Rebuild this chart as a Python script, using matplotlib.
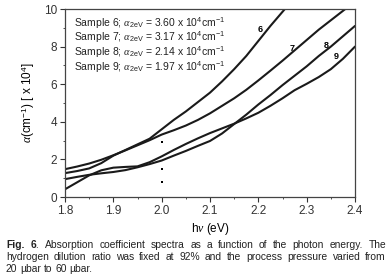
import matplotlib
matplotlib.use('Agg')
import matplotlib.pyplot as plt
from matplotlib.ticker import MultipleLocator

plt.rcParams['font.family'] = ['Liberation Sans', 'DejaVu Sans']
plt.rcParams['mathtext.fontset'] = 'custom'
plt.rcParams['mathtext.rm'] = 'Liberation Sans'
plt.rcParams['mathtext.it'] = 'Liberation Serif:italic'
plt.rcParams['mathtext.bf'] = 'Liberation Sans:bold'

# absorption coefficient [x 1e4 cm^-1] vs photon energy [eV]
hv_6 = [1.8, 1.825, 1.85, 1.875, 1.9, 1.925, 1.95, 1.975, 2.0, 2.025, 2.05, 2.075,
        2.1, 2.125, 2.15, 2.175, 2.2, 2.225, 2.25, 2.26]
alpha_6 = [1.27, 1.38, 1.52, 1.8, 2.2, 2.5, 2.8, 3.1, 3.6, 4.1, 4.55, 5.05,
           5.55, 6.15, 6.8, 7.5, 8.3, 9.1, 9.85, 10.15]

hv_7 = [1.8, 1.825, 1.85, 1.875, 1.9, 1.925, 1.95, 1.975, 2.0, 2.025, 2.05, 2.075,
        2.1, 2.125, 2.15, 2.175, 2.2, 2.225, 2.25, 2.275, 2.3, 2.325, 2.35, 2.375, 2.385]
alpha_7 = [1.48, 1.62, 1.78, 1.98, 2.22, 2.48, 2.75, 3.02, 3.32, 3.55, 3.8, 4.1,
           4.45, 4.85, 5.25, 5.7, 6.2, 6.72, 7.25, 7.8, 8.35, 8.9, 9.4, 9.9, 10.1]

hv_8 = [1.8, 1.825, 1.85, 1.875, 1.9, 1.925, 1.95, 1.975, 2.0, 2.025, 2.05, 2.075,
        2.1, 2.125, 2.15, 2.175, 2.2, 2.225, 2.25, 2.275, 2.3, 2.325, 2.35, 2.375, 2.4]
alpha_8 = [0.95, 1.07, 1.18, 1.26, 1.33, 1.43, 1.58, 1.75, 1.94, 2.2, 2.45, 2.72,
           2.98, 3.38, 3.88, 4.38, 4.92, 5.42, 5.95, 6.45, 6.95, 7.5, 8.0, 8.55, 9.1]

hv_9 = [1.8, 1.825, 1.85, 1.875, 1.9, 1.925, 1.95, 1.975, 2.0, 2.025, 2.05, 2.075,
        2.1, 2.125, 2.15, 2.175, 2.2, 2.225, 2.25, 2.275, 2.3, 2.325, 2.35, 2.375, 2.4]
alpha_9 = [0.41, 0.78, 1.15, 1.42, 1.56, 1.6, 1.63, 1.85, 2.16, 2.5, 2.82, 3.12,
           3.4, 3.65, 3.9, 4.18, 4.48, 4.85, 5.25, 5.68, 6.02, 6.38, 6.8, 7.35, 8.0]

samples = ['6', '7', '8', '9']
alpha_2ev = ['3.60', '3.17', '2.14', '1.97']
label_pos = [(2.203, 8.9), (2.269, 7.9), (2.34, 8.07), (2.362, 7.47)]

dot_x = [2.0, 2.0, 2.0]
dot_y = [2.9, 1.48, 0.79]

caption = [
    [('Fig.', 'bold'), ('$\\mathbf{6}$.', 'normal'), 'Absorption', 'coefficient',
     'spectra', 'as', 'a', 'function', 'of', 'the', 'photon', 'energy.', 'The'],
    ['hydrogen', 'dilution', 'ratio', 'was', 'fixed', 'at', '92%', 'and', 'the',
     'process', 'pressure', 'varied', 'from'],
    ['20', '\u00b5bar', 'to', '60', '\u00b5bar.'],
]

W, H = 390, 279
fig = plt.figure(figsize=(W / 100, H / 100), dpi=100)
ax = fig.add_axes([65 / W, 1 - 197 / H, 290 / W, 188 / H])

for hv, a in [(hv_6, alpha_6), (hv_7, alpha_7), (hv_8, alpha_8), (hv_9, alpha_9)]:
    ax.plot(hv, a, color='#1a1a1a', linewidth=1.5, solid_capstyle='round')
ax.plot(dot_x, dot_y, 's', color='black', markersize=1.6, markeredgewidth=0)

for s, (x, y) in zip(samples, label_pos):
    ax.text(x, y, s, fontsize=6.5, fontweight='bold', ha='center', va='center')

for i, (s, a) in enumerate(zip(samples, alpha_2ev)):
    ax.text(0.031, 0.925 - i * 0.078,
            'Sample %s; $\\alpha_{\\rm 2eV}$ = %s x 10$^{4}$cm$^{-1}$' % (s, a),
            transform=ax.transAxes, fontsize=7.5, color='#222222', va='center')

ax.set_xlim(1.8, 2.4)
ax.set_ylim(0, 10)
ax.xaxis.set_major_locator(MultipleLocator(0.1))
ax.xaxis.set_minor_locator(MultipleLocator(0.05))
ax.yaxis.set_major_locator(MultipleLocator(2))
ax.yaxis.set_minor_locator(MultipleLocator(1))
ax.tick_params(which='major', direction='out', length=3.5, width=0.8, labelsize=8.5,
               colors='#333333', pad=2)
ax.tick_params(which='minor', direction='out', length=1.5, width=0.6, colors='#333333')
for sp in ax.spines.values():
    sp.set_linewidth(0.9)
    sp.set_color('#444444')

ax.set_xlabel('h$\\nu$ (eV)', fontsize=8.5, labelpad=3)
ax.set_ylabel('$\\alpha$(cm$^{-1}$) [ x 10$^{4}$]', fontsize=8.5, labelpad=5)

# justified caption, placed word by word
fig.canvas.draw()
r = fig.canvas.get_renderer()
size = 7.4
x0, x1 = 6, 386
for n, (line, yb) in enumerate(zip(caption, [248, 260, 272])):
    texts = []
    for w in line:
        s, wt = w if isinstance(w, tuple) else (w, 'normal')
        t = fig.text(0, 1 - yb / H, s, fontsize=size, fontweight=wt, va='baseline',
                     color='#222222')
        texts.append((t, t.get_window_extent(r).width))
    total = sum(wd for _, wd in texts)
    if n < len(caption) - 1:
        gap = (x1 - x0 - total) / (len(texts) - 1)
    else:
        gap = 2.8
    x = x0
    for t, wd in texts:
        t.set_x(x / W)
        x += wd + gap

fig.savefig('out.png', dpi=100)
